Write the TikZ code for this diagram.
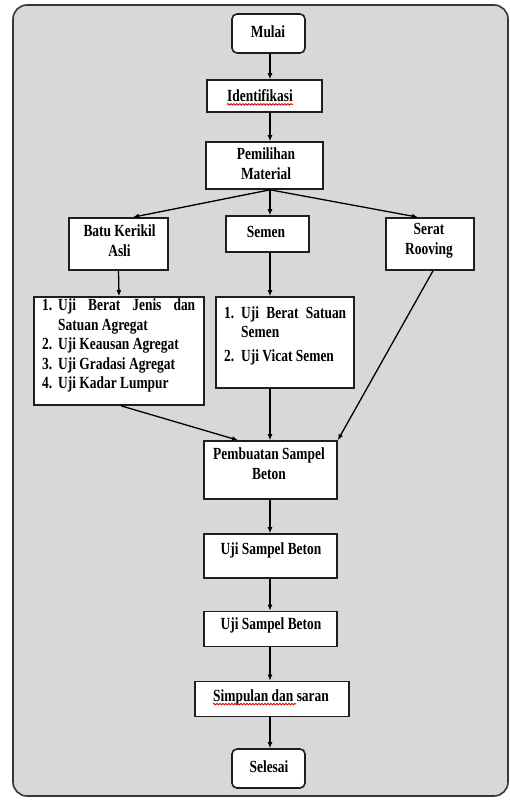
\documentclass[tikz,border=0pt]{standalone}
\usepackage{fontspec}
\setmainfont{Liberation Serif}[FakeStretch=0.79]
\usetikzlibrary{arrows.meta,decorations.pathmorphing}
\definecolor{framefill}{RGB}{216,216,216}
\definecolor{framec}{RGB}{55,55,55}
\definecolor{boxc}{RGB}{30,30,30}
\hyphenpenalty=10000
\exhyphenpenalty=10000
\begin{document}
\begin{tikzpicture}[x=1pt,y=-1pt,
  box/.style={draw=boxc, fill=white, line width=1.6pt, inner sep=0pt},
  rbox/.style={box, rounded corners=5pt},
  txt/.style={font=\fontsize{17}{20}\selectfont\bfseries, inner sep=0pt, align=center},
  lst/.style={font=\fontsize{17}{19.5}\selectfont\bfseries, inner sep=0pt, align=justify, anchor=north west},
  arr/.style={-{Latex[length=6pt,width=5pt]}, line width=1.3pt, black},
  wavy/.style={red!85!black, line width=0.8pt, decorate, decoration={snake, amplitude=0.8pt, segment length=3pt}}]
\useasboundingbox (0,0) rectangle (510,800);
\draw[fill=framefill, draw=framec, line width=1.6pt, rounded corners=14pt] (13,5) rectangle (508,796);
\coordinate (ax) at (270,0);
% boxes
\node[rbox, minimum width=73pt, minimum height=39pt] (mulai) at (268.5,33.5) {};
\node[box, minimum width=115pt, minimum height=32pt] (ident) at (264.5,96) {};
\node[box, minimum width=117pt, minimum height=47pt] (pemil) at (264.5,165.5) {};
\node[box, minimum width=99pt, minimum height=52pt] (batu) at (118.5,244) {};
\node[box, minimum width=83pt, minimum height=36pt] (semen) at (267.5,234) {};
\node[box, minimum width=88pt, minimum height=52pt] (serat) at (430,244) {};
\node[box, minimum width=170pt, minimum height=108pt] (batut) at (119,351) {};
\node[box, minimum width=138pt, minimum height=91pt] (semt) at (285,342.5) {};
\node[box, minimum width=133pt, minimum height=58pt] (pemb) at (270.5,470) {};
\node[box, minimum width=133pt, minimum height=44pt] (uji1) at (270.5,556) {};
\node[box, minimum width=133pt, minimum height=35pt] (uji2) at (270.5,629) {};
\node[box, minimum width=154pt, minimum height=35pt] (simp) at (272,699) {};
\node[rbox, minimum width=73pt, minimum height=39pt] (selesai) at (268.5,768.5) {};
% texts
\node[txt] (mulaix) at (268,32) {Mulai};
\node[txt] (identx) at (260,96) {Identifikasi};
\node[txt] (pemilx) at (266,164) {Pemilihan\\Material};
\node[txt] (batux) at (119.5,241) {Batu Kerikil\\Asli};
\node[txt] (semenx) at (266,232) {Semen};
\node[txt] (seratx) at (429,241) {Serat\\Rooving};
\node[lst, text width=153pt] (batutx) at (42,299) {%
\hangindent=16pt\hangafter=1\noindent\makebox[16pt][l]{1.}Uji Berat Jenis dan Satuan Agregat\par
\hangindent=16pt\hangafter=1\noindent\makebox[16pt][l]{2.}Uji Keausan Agregat\par
\hangindent=16pt\hangafter=1\noindent\makebox[16pt][l]{3.}Uji Gradasi Agregat\par
\hangindent=16pt\hangafter=1\noindent\makebox[16pt][l]{4.}Uji Kadar Lumpur\par};
\node[lst, text width=122pt, font=\fontsize{17}{18.5}\selectfont\bfseries] (semtx) at (224,307) {%
\hangindent=17pt\hangafter=1\noindent\makebox[17pt][l]{1.}Uji Berat Satuan Semen\par\vspace{6pt}
\hangindent=17pt\hangafter=1\noindent\makebox[17pt][l]{2.}Uji Vicat Semen\par};
\node[txt] (pembx) at (269,463.5) {Pembuatan Sampel\\Beton};
\node[txt] (uji1x) at (271,550) {Uji Sampel Beton};
\node[txt] (uji2x) at (271,625) {Uji Sampel Beton};
\node[txt] (simpx) at (271,697) {Simpulan dan saran};
\node[txt] (selx) at (269,767) {Selesai};
% spell-check underlines
\draw[wavy] ([yshift=-2.5pt]identx.base west) -- ([yshift=-2.5pt]identx.base east);
\draw[wavy] ([yshift=-3pt]simpx.base west) -- ++(83,0);
% connectors
\draw[arr] (mulai.south -| ax) -- (ident.north -| ax);
\draw[arr] (ident.south -| ax) -- (pemil.north -| ax);
\draw[arr] (pemil.south -| ax) -- ([xshift=14.5pt]batu.north);
\draw[arr] (pemil.south -| ax) -- (semen.north -| ax);
\draw[arr] (pemil.south -| ax) -- ([xshift=-12pt]serat.north);
\draw[arr] (batu.south) -- (batut.north);
\draw[arr] (semen.south -| ax) -- (semt.north -| ax);
\draw[arr] ([xshift=2pt]batut.south) -- ([xshift=-32.5pt]pemb.north);
\draw[arr] (semt.south -| ax) -- (pemb.north -| ax);
\draw[arr] ([xshift=3pt]serat.south) -- (pemb.north east);
\draw[arr] (pemb.south -| ax) -- (uji1.north -| ax);
\draw[arr] (uji1.south -| ax) -- (uji2.north -| ax);
\draw[arr] (uji2.south -| ax) -- (simp.north -| ax);
\draw[arr] (simp.south -| ax) -- (selesai.north -| ax);
\end{tikzpicture}
\end{document}
